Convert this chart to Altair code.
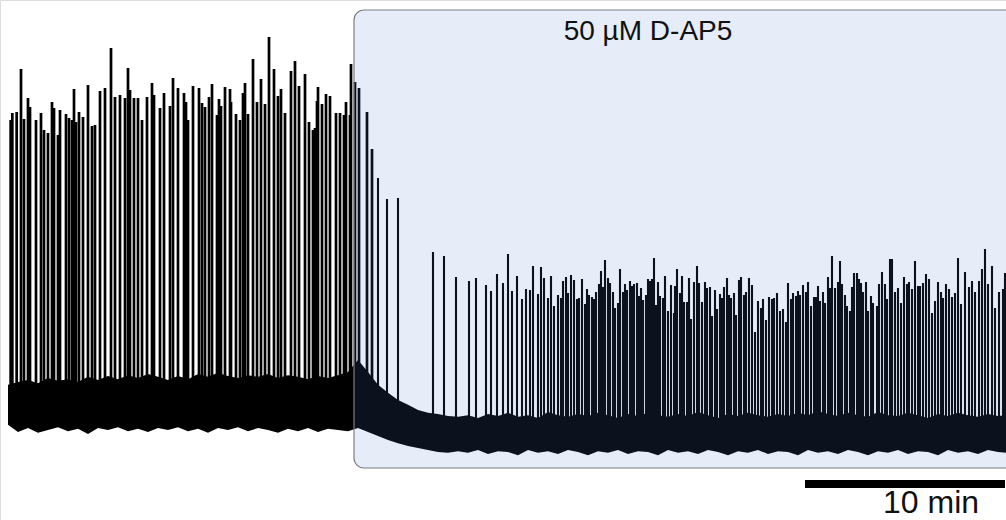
import altair as alt
import pandas as pd

# Spike peak times (s) and peak potentials (mV)
spike_t = [8, 13, 26, 39, 48, 60, 66, 84, 99, 108, 120, 132, 138, 150, 156, 174, 183, 192, 198, 204,
           213, 225, 240, 252, 261, 276, 291, 309, 321, 336, 351, 360, 366, 378, 390, 402, 417, 432, 438, 456,
           468, 486, 495, 510, 528, 534, 540, 555, 573, 582, 591, 603, 612, 627, 633, 639, 651, 666, 669, 684,
           696, 705, 711, 720, 735, 747, 759, 771, 783, 798, 810, 819, 831, 849, 861, 873, 891, 903, 915, 921,
           927, 930, 942, 954, 966, 984, 996, 1008, 1014, 1026, 1029, 1041, 1053, 1077, 1092, 1110, 1137, 1170,
           1275, 1308, 1344, 1383, 1404, 1434, 1449, 1467, 1485, 1500, 1512, 1527, 1542, 1554, 1566, 1575, 1590,
           1599, 1608, 1620, 1629, 1638, 1650, 1659, 1665, 1674, 1680, 1689, 1698, 1707, 1713, 1722, 1731, 1737,
           1743, 1752, 1758, 1764, 1773, 1779, 1785, 1791, 1800, 1806, 1815, 1821, 1830, 1836, 1845, 1851, 1857,
           1866, 1872, 1878, 1887, 1893, 1899, 1905, 1914, 1920, 1926, 1932, 1938, 1944, 1950, 1956, 1965, 1971,
           1980, 1989, 1998, 2001, 2007, 2016, 2022, 2028, 2037, 2043, 2049, 2058, 2067, 2073, 2082, 2091, 2097,
           2106, 2112, 2121, 2127, 2136, 2142, 2148, 2157, 2163, 2169, 2178, 2184, 2193, 2199, 2208, 2214, 2223,
           2232, 2241, 2250, 2259, 2265, 2274, 2283, 2292, 2298, 2307, 2316, 2325, 2334, 2340, 2349, 2355, 2364,
           2370, 2376, 2385, 2394, 2400, 2409, 2418, 2424, 2430, 2436, 2445, 2451, 2460, 2466, 2472, 2481, 2490,
           2496, 2502, 2511, 2517, 2526, 2532, 2538, 2547, 2553, 2559, 2565, 2574, 2580, 2589, 2595, 2607, 2613,
           2622, 2631, 2637, 2646, 2652, 2661, 2670, 2679, 2688, 2697, 2703, 2712, 2721, 2730, 2736, 2745, 2754,
           2763, 2772, 2781, 2790, 2799, 2805, 2814, 2823, 2832, 2841, 2850, 2859, 2871, 2883, 2892, 2901, 2913,
           2922, 2931, 2940, 2952, 2961, 2973, 2985, 2991]
spike_mv = [0, 1.75, 2, 12.75, 0.25, 5.5, 3.25, 0, 1.75, -2.5, -3.25, 4.5, 3, -3.75, 2.5, 1.5, 0.5, 0, 7.75, -0.5,
            2, 0.75, 8.75, -1.5, -1.25, 7.25, 8, 18, 5.75, 6.25, 5.5, 13, 7.5, 5.5, 5.5, 0, 5.75, 9.25, 6.25, 3,
            6.75, 3.5, 10.5, 8, 6.75, 4.5, 0, 8.5, 8, 4.25, 3.25, 5.75, 9, 1.25, 5.25, 3.5, 8.25, 7.75, 4.5, 1.5,
            0, 6.75, 9.25, 1.5, 15.25, 4.5, 10.25, 4, 20.75, 12.75, 6, 7.75, 1.75, 12.25, 14.75, 8.5, 11.5, -0.5, -2.5, -2,
            4.75, 8.25, 4, 6.5, 6, 1.75, 1.75, 1.25, 4.5, 1.25, 14, 9.5, 8, 2, -7.25, -14.5, -19.75, -19.5,
            -33, -34, -39.25, -40.25, -39.5, -41.25, -42.75, -38.5, -40.75, -33.5, -42.75, -39, -44.75, -42.25, -42.5, -36.5, -43.5,
            -36.75, -39.5, -44.5, -39, -46.5, -43.75, -44.5, -40.25, -39.25, -43.25, -38.75, -40, -44.75, -44.5, -39.75, -46, -42.25,
            -43.75, -44.25, -44.75, -43, -41, -37.75, -41.75, -35, -39.5, -40.75, -43, -47, -45.75, -37.25, -43, -41, -42.5,
            -40.25, -41.5, -41, -40.75, -44, -42, -45, -43.75, -39.75, -40.25, -39.75, -34.5, -46.25, -40.5, -44, -44.5, -39,
            -47.75, -41.25, -48.25, -41.5, -37.25, -43.25, -39, -45.5, -45.5, -39.5, -49.75, -40.5, -36.5, -40.75, -45.5, -40.5, -42,
            -41.75, -49, -42.5, -47.25, -43.5, -44.5, -41.75, -39.5, -43.75, -44.5, -43.25, -48.75, -40, -39.25, -43.75, -43, -39.5,
            -41.25, -53, -45.25, -47, -44.75, -50, -44.25, -44.75, -44.5, -43.25, -47.75, -47.25, -50.5, -40.75, -44.75, -43.25, -44,
            -42.75, -43.75, -41.25, -43, -40.5, -46.5, -44.25, -44.25, -41.5, -45.25, -43, -45.75, -39.25, -42, -34, -42, -40.5,
            -35.25, -41, -43.75, -46.5, -47.75, -41.75, -38.25, -38.25, -39.75, -40.75, -43, -40.5, -47.75, -44, -45.75, -46.5, -41,
            -38, -41, -44.75, -34.75, -34.75, -43, -42, -45.75, -39.25, -41, -40.5, -42.25, -35.25, -41.5, -41.5, -40.75, -38.5,
            -39.75, -48.25, -45.25, -40.5, -43, -44.5, -41, -42.25, -44.25, -43.25, -34.5, -46, -38, -41.75, -40.25, -43, -40.25,
            -37.25, -32.25, -41, -36.5, -47, -43, -42.25, -38.25]

# Baseline noise envelope (s, upper mV, lower mV)
env_t = [0, 30, 60, 90, 120, 150, 180, 210, 240, 270, 300, 330, 360, 390, 420, 450, 480, 510, 540, 570,
         600, 630, 660, 690, 720, 750, 780, 810, 840, 870, 900, 930, 960, 990, 1020, 1050, 1080, 1110, 1140, 1170,
         1200, 1230, 1260, 1290, 1320, 1350, 1380, 1410, 1440, 1470, 1500, 1530, 1560, 1590, 1620, 1650, 1680, 1710, 1740, 1770,
         1800, 1830, 1860, 1890, 1920, 1950, 1980, 2010, 2040, 2070, 2100, 2130, 2160, 2190, 2220, 2250, 2280, 2310, 2340, 2370,
         2400, 2430, 2460, 2490, 2520, 2550, 2580, 2610, 2640, 2670, 2700, 2730, 2760, 2790, 2820, 2850, 2880, 2910, 2940, 2970,
         3000]
env_hi = [-66.2, -65.5, -65.0, -65.8, -64.5, -65.2, -64.8, -65.5, -64.2, -65.0, -64.0, -64.8, -63.8, -64.5, -63.5, -64.2,
          -65.0, -64.0, -64.8, -63.5, -64.2, -63.2, -64.0, -64.5, -63.8, -64.2, -63.5, -64.5, -63.8, -64.2, -64.8, -64.0,
          -64.5, -63.8, -63.0, -60.0, -63.0, -66.2, -68.2, -70.0, -71.2, -72.5, -73.2, -73.5, -74.0, -74.2, -73.8, -74.5,
          -73.5, -74.0, -73.2, -74.2, -73.8, -74.5, -73.0, -73.8, -74.2, -73.5, -74.0, -73.2, -73.8, -74.5, -73.5, -74.0,
          -73.2, -73.8, -74.2, -73.5, -74.0, -73.0, -73.8, -74.5, -73.5, -74.0, -73.2, -73.8, -74.2, -73.5, -74.0, -73.2,
          -73.8, -72.8, -73.5, -74.0, -73.2, -73.8, -74.2, -73.0, -73.8, -74.0, -73.2, -73.8, -74.5, -73.5, -74.0, -73.2,
          -73.8, -74.2, -73.5, -74.0, -73.8]
env_lo = [-76.2, -78.0, -77.0, -78.2, -77.5, -76.8, -77.8, -77.2, -78.5, -77.0, -77.5, -76.8, -77.8, -77.2, -78.0, -77.0,
          -77.5, -76.8, -77.8, -77.2, -78.2, -77.0, -77.5, -76.8, -77.8, -77.0, -77.5, -78.2, -77.2, -77.8, -77.0, -78.0,
          -77.2, -77.5, -77.8, -77.0, -78.0, -79.0, -80.0, -80.8, -81.5, -82.0, -82.5, -83.0, -83.2, -82.8, -83.2, -82.5,
          -83.5, -82.8, -83.0, -83.8, -82.5, -83.2, -82.8, -83.5, -82.5, -83.0, -83.8, -82.8, -83.2, -82.5, -83.5, -82.8,
          -83.0, -83.8, -82.5, -83.2, -82.8, -83.5, -82.5, -83.0, -83.8, -82.8, -83.2, -82.5, -83.5, -82.8, -83.0, -83.8,
          -82.5, -83.2, -82.8, -83.5, -82.5, -83.0, -83.8, -82.8, -83.2, -82.5, -83.5, -82.8, -83.0, -83.8, -82.5, -83.2,
          -82.8, -83.5, -82.5, -83.0, -83.2]

drug_start = 1038   # s, onset of D-AP5 application
drug_label = "50 µM D-AP5"
scale_label = "10 min"

spikes = pd.DataFrame({"t": spike_t, "peak": spike_mv})
spikes["phase"] = ["pre" if t < 1100 else "post" for t in spike_t]
spikes["base"] = [-70 if t < 1100 else -78 for t in spike_t]
env = pd.DataFrame({"t": env_t, "hi": env_hi, "lo": env_lo})

xs = alt.Scale(domain=[-24, 2994], nice=False, zero=False)
ys = alt.Scale(domain=[-100, 30], nice=False, zero=False)

base_sp = alt.Chart(spikes).encode(
    x=alt.X("t:Q", scale=xs, axis=None),
    y=alt.Y("base:Q", scale=ys, axis=None),
    y2="peak:Q",
)
spike_pre = base_sp.transform_filter(alt.datum.phase == "pre").mark_rule(
    color="black", strokeWidth=2.7, clip=True)
spike_post = base_sp.transform_filter(alt.datum.phase == "post").mark_rule(
    color="black", strokeWidth=2.1, clip=True)

noise_layer = alt.Chart(env).mark_area(color="black", clip=True).encode(
    x=alt.X("t:Q", scale=xs, axis=None),
    y=alt.Y("hi:Q", scale=ys, axis=None),
    y2="lo:Q",
)

box = alt.Chart(pd.DataFrame({"x": [drug_start], "x2": [3060], "y": [27.5], "y2": [-87]})).mark_rect(
    fill="#4f79cf", fillOpacity=0.14, stroke="#7d7d7d", strokeWidth=1.2, cornerRadius=10, clip=True
).encode(
    x=alt.X("x:Q", scale=xs, axis=None), x2="x2:Q",
    y=alt.Y("y:Q", scale=ys, axis=None), y2="y2:Q",
)

title = alt.Chart(pd.DataFrame({"x": [1920], "y": [20], "s": [drug_label]})).mark_text(
    fontSize=28, font="Liberation Sans", color="#111111", baseline="alphabetic", align="center"
).encode(x=alt.X("x:Q", scale=xs, axis=None), y=alt.Y("y:Q", scale=ys, axis=None), text="s:N")

bar = alt.Chart(pd.DataFrame({"x": [2391], "x2": [2991], "y": [-91]})).mark_rule(
    color="black", strokeWidth=8
).encode(x=alt.X("x:Q", scale=xs, axis=None), x2="x2:Q", y=alt.Y("y:Q", scale=ys, axis=None))

bar_text = alt.Chart(pd.DataFrame({"x": [2769], "y": [-98.2], "s": [scale_label]})).mark_text(
    fontSize=32, font="Liberation Sans", color="#111111", baseline="alphabetic", align="center"
).encode(x=alt.X("x:Q", scale=xs, axis=None), y=alt.Y("y:Q", scale=ys, axis=None), text="s:N")

chart = alt.layer(spike_pre, spike_post, noise_layer, box, title, bar, bar_text).properties(
    width=1006, height=520, autosize=alt.AutoSizeParams(type="none"), padding=0
).configure_view(stroke=None).configure(background="white")

chart.save("out.html", embed_options={"renderer": "svg", "actions": False})
